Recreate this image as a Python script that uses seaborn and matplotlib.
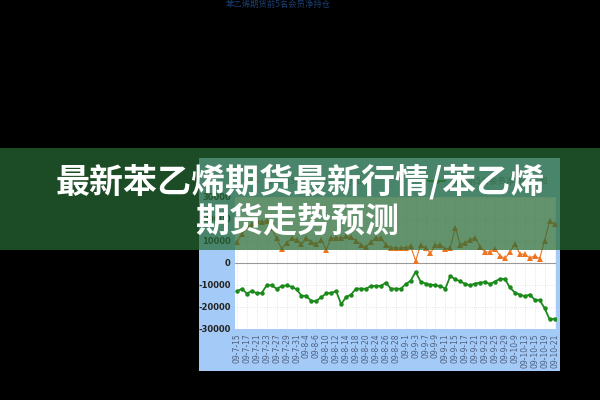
import numpy as np
import pandas as pd
import matplotlib
matplotlib.use("Agg")
import matplotlib.pyplot as plt
from matplotlib.patches import Rectangle
import seaborn as sns

# trading days shown on the chart (labels every other day)
dates = ["09-7-15", "09-7-16", "09-7-17", "09-7-20", "09-7-21", "09-7-22", "09-7-23", "09-7-24",
         "09-7-27", "09-7-28", "09-7-29", "09-7-30", "09-7-31",
         "09-8-3", "09-8-4", "09-8-5", "09-8-6", "09-8-7", "09-8-10", "09-8-11", "09-8-12",
         "09-8-13", "09-8-14", "09-8-17", "09-8-18", "09-8-19", "09-8-20", "09-8-21", "09-8-24",
         "09-8-25", "09-8-26", "09-8-27", "09-8-28", "09-8-31",
         "09-9-1", "09-9-2", "09-9-3", "09-9-4", "09-9-7", "09-9-8", "09-9-9", "09-9-10", "09-9-11",
         "09-9-14", "09-9-15", "09-9-16", "09-9-17", "09-9-18", "09-9-21", "09-9-22", "09-9-23",
         "09-9-24", "09-9-25", "09-9-28", "09-9-29", "09-9-30",
         "09-10-9", "09-10-12", "09-10-13", "09-10-14", "09-10-15", "09-10-16", "09-10-19",
         "09-10-20", "09-10-21"]

long_net = [9500, 13000, 16000, 17500, 19000, 18500, 19000, 15600, 11000, 6300,
            9000, 11000, 10500, 8300, 11000, 9500, 8300, 10500, 6000, 11000,
            11400, 11000, 12000, 11500, 10000, 8200, 7000, 9500, 11200, 11200,
            8200, 6900, 6700, 6700, 6900, 7500, 900, 7900, 6700, 4400,
            7900, 8200, 6100, 6900, 15900, 8200, 9100, 10500, 11400, 7200,
            4900, 4900, 6400, 3200, 2000, 4700, 8400, 4100, 3800, 2200,
            3100, 1900, 9900, 18800, 17700]

short_net = [-12900, -11800, -14000, -12700, -13900, -13600, -10200, -10200, -11800, -10600,
             -10200, -10900, -12000, -14900, -15000, -17400, -17300, -15500, -13900, -13600,
             -12900, -18800, -15500, -14400, -11700, -11700, -11800, -10500, -10500, -10500,
             -9000, -11700, -11700, -11800, -9700, -8200, -4100, -8500, -9400, -9900,
             -10200, -10600, -11700, -6000, -7500, -8400, -9600, -10200, -9400, -9000,
             -8800, -9600, -8500, -7300, -7300, -11200, -13500, -14400, -15200, -14400,
             -16700, -17000, -20500, -25600, -25300]

series_names = ["多头前5名会员净持仓总和", "空头前5名会员净持仓总和"]
yticks = [-30000, -20000, -10000, 0, 10000, 20000, 30000]
title_line1 = "最新苯乙烯期货最新行情/苯乙烯"
title_line2 = "期货走势预测"

df = pd.DataFrame({"idx": np.arange(len(dates)), "date": dates,
                   "long": long_net, "short": short_net})

sns.set_theme(style="white")
plt.rcParams["font.family"] = ["Noto Sans CJK SC", "DejaVu Sans"]
plt.rcParams["axes.unicode_minus"] = False

W, H = 600, 400
fig = plt.figure(figsize=(6, 4), dpi=100, facecolor="black")

# light blue chart panel
fig.patches.append(Rectangle((199 / W, 1 - 371 / H), 361 / W, 213 / H,
                             transform=fig.transFigure, facecolor="#a4cbf7",
                             edgecolor="none", zorder=-5))

ax = fig.add_axes([235 / W, 1 - 329 / H, 321 / W, 132.5 / H])
ax.set_facecolor("white")

sns.lineplot(data=df, x="idx", y="long", ax=ax, color="#ee7420", marker="^",
             markersize=4, markeredgewidth=0, linewidth=0.8, label=series_names[0])
sns.lineplot(data=df, x="idx", y="short", ax=ax, color="#1a8a1a", marker="o",
             markersize=3.2, markeredgewidth=0, linewidth=1.3, label=series_names[1])

ax.axhline(0, color="#999999", lw=0.8, zorder=1)
ax.set_xlim(-0.4, len(dates) - 0.7)
ax.set_ylim(-30000, 30000)
ax.set_yticks(yticks)
ax.set_yticklabels([str(v) for v in yticks], fontsize=6, color="#222222",
                   family=["DejaVu Sans"], fontweight="bold")
tick_pos = list(range(0, len(dates), 2))
ax.set_xticks(tick_pos)
ax.set_xticklabels([dates[i] for i in tick_pos], rotation=90, fontsize=5.5,
                   color="#4d5f80", family=["DejaVu Sans"])
ax.tick_params(axis="both", length=0, pad=3)
ax.grid(True, color="#dddddd", linestyle=":", linewidth=0.6)
for s in ax.spines.values():
    s.set_visible(False)
ax.set_xlabel("")
ax.set_ylabel("")

leg = ax.legend(loc="lower left", bbox_to_anchor=(0.0, 1.02, 1.0, 0.2), ncol=2,
                mode="expand", frameon=False, fontsize=6, labelcolor="#667788",
                handlelength=2)

# faint chart title at the very top
fig.text(226 / W, 1 - 4 / H, "苯乙烯期货前5名会员净持仓", fontsize=6,
         color="#1c3f72", ha="left", va="center")

# green banner overlay
fig.patches.append(Rectangle((0, 1 - 250 / H), 1, 102 / H,
                             transform=fig.transFigure, facecolor="#266a35",
                             edgecolor="none", alpha=0.72, zorder=5))
fig.text(300 / W, 1 - 182 / H, title_line1, fontsize=24.5, fontweight="heavy",
         color="white", ha="center", va="center", zorder=6)
fig.text(297 / W, 1 - 221 / H, title_line2, fontsize=24.5, fontweight="heavy",
         color="white", ha="center", va="center", zorder=6)

fig.savefig("out.png", dpi=100, facecolor="black")
